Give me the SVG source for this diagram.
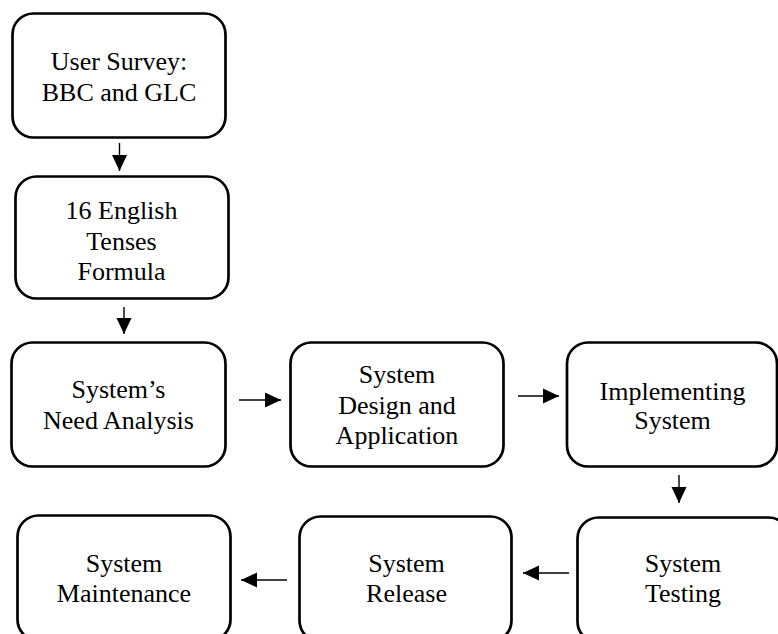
<svg xmlns="http://www.w3.org/2000/svg" width="778" height="634" viewBox="0 0 778 634">
<style>
.box{fill:#fff;stroke:#000;stroke-width:2.7}
.t{font-family:"Liberation Serif","Times New Roman",serif;font-size:26px;fill:#000;text-anchor:middle}
.c{stroke:#000;stroke-width:1.4;fill:none;marker-end:url(#ah)}
</style>
<defs>
<marker id="ah" markerUnits="userSpaceOnUse" markerWidth="16" markerHeight="16" viewBox="0 0 16 16" refX="16" refY="8" orient="auto">
<path d="M0,0.5 L16,8 L0,15.5 Z" fill="#000"/>
</marker>
</defs>
<rect width="778" height="634" fill="#fff"/>
<g id="n1"><rect class="box" x="12.5" y="13.5" width="213" height="124" rx="21"/>
<text class="t" x="119" y="70">User Survey:</text><text class="t" x="119" y="101">BBC and GLC</text></g>
<g id="n2"><rect class="box" x="15.5" y="176.5" width="213" height="122" rx="21"/>
<text class="t" x="121.5" y="219">16 English</text><text class="t" x="121.5" y="250">Tenses</text><text class="t" x="121.5" y="280">Formula</text></g>
<g id="n3"><rect class="box" x="11.5" y="342.5" width="214" height="124" rx="21"/>
<text class="t" x="118.5" y="398">System’s</text><text class="t" x="118.5" y="429">Need Analysis</text></g>
<g id="n4"><rect class="box" x="290.5" y="342.5" width="213" height="124" rx="21"/>
<text class="t" x="397" y="383">System</text><text class="t" x="397" y="414">Design and</text><text class="t" x="397" y="444">Application</text></g>
<g id="n5"><rect class="box" x="567" y="342.5" width="210" height="124" rx="21"/>
<text class="t" x="672.5" y="400">Implementing</text><text class="t" x="672.5" y="429">System</text></g>
<g id="n8"><rect class="box" x="577.5" y="517.5" width="212" height="125" rx="21"/>
<text class="t" x="683" y="572">System</text><text class="t" x="683" y="602">Testing</text></g>
<g id="n7"><rect class="box" x="299.5" y="516.5" width="212" height="125" rx="21"/>
<text class="t" x="406.5" y="572">System</text><text class="t" x="406.5" y="602">Release</text></g>
<g id="n6"><rect class="box" x="17.5" y="515.5" width="213" height="125" rx="21"/>
<text class="t" x="124" y="572">System</text><text class="t" x="124" y="602">Maintenance</text></g>
<g id="connectors">
<line class="c" x1="119.5" y1="143" x2="119.5" y2="171"/>
<line class="c" x1="124" y1="307" x2="124" y2="334"/>
<line class="c" x1="239" y1="400" x2="281" y2="400"/>
<line class="c" x1="518" y1="396" x2="559" y2="396"/>
<line class="c" x1="679" y1="475" x2="679" y2="503"/>
<line class="c" x1="569" y1="573" x2="523" y2="573"/>
<line class="c" x1="287" y1="580" x2="241" y2="580"/>
</g>
</svg>
